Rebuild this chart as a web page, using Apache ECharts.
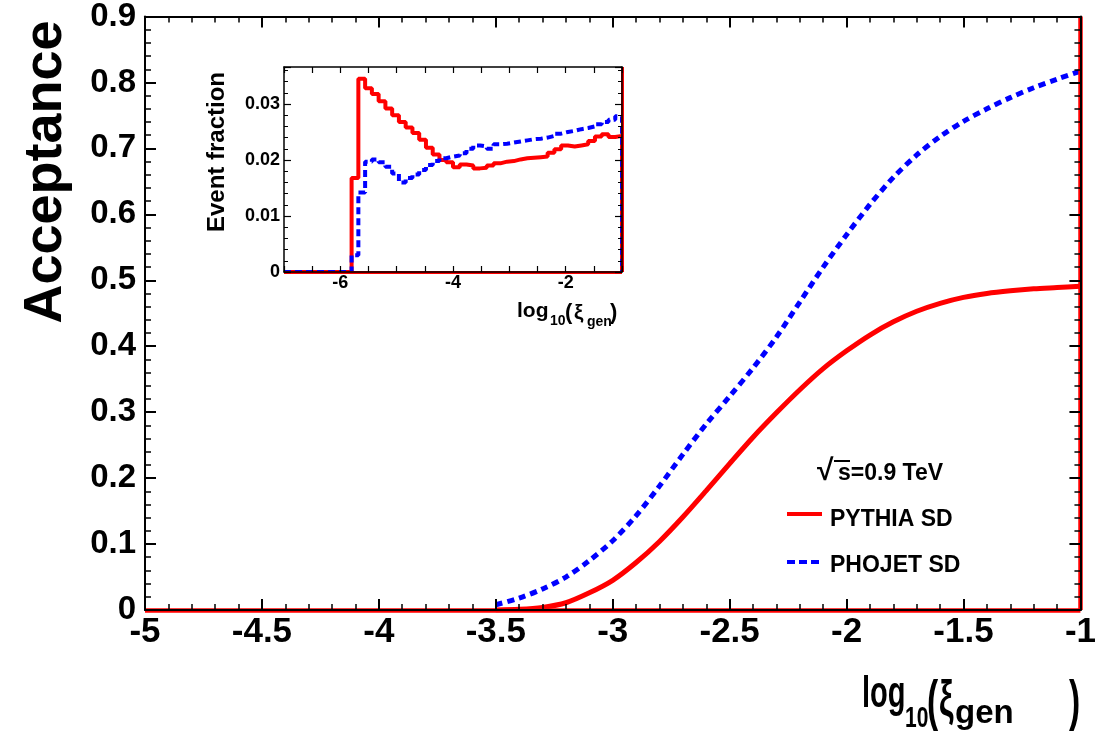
<!DOCTYPE html>
<html><head><meta charset="utf-8">
<script src="https://cdn.jsdelivr.net/npm/echarts@6/dist/echarts.min.js"></script>
<style>html,body{margin:0;padding:0;background:#fff}#c{width:1099px;height:740px}</style>
</head><body><div id="c"></div>
<script>
// ---- main plot data: acceptance vs log10(xi_gen)
const accX = [-3.5,-3.4,-3.3,-3.2,-3.1,-3.0,-2.9,-2.8,-2.7,-2.6,-2.5,-2.4,-2.3,-2.2,-2.1,-2.0,-1.9,-1.8,-1.7,-1.6,-1.5,-1.4,-1.3,-1.2,-1.1,-1.0];
const pythiaAcc = [0.000,0.001,0.004,0.011,0.026,0.045,0.072,0.104,0.141,0.181,0.222,0.262,0.299,0.334,0.366,0.393,0.417,0.437,0.453,0.465,0.474,0.480,0.484,0.487,0.489,0.491];
const phojetAcc = [0.008,0.018,0.032,0.050,0.075,0.105,0.143,0.188,0.236,0.282,0.324,0.367,0.414,0.467,0.520,0.569,0.615,0.656,0.690,0.718,0.741,0.760,0.777,0.792,0.805,0.817];

// ---- inset histogram: event fraction per bin of log10(xi_gen)
const histLow = -7, histHigh = -1, histBinWidth = 0.12;
const pythiaFrac = [0,0,0,0,0,0,0,0,0,0,
  0.0168,0.0345,0.0328,0.0318,0.0305,0.0292,0.0280,0.0268,0.0258,0.0248,
  0.0236,0.0222,0.0210,0.0200,0.0196,0.0187,0.0192,0.0190,0.0185,0.0186,
  0.0190,0.0194,0.0197,0.0198,0.0201,0.0203,0.0204,0.0205,0.0206,0.0213,
  0.0219,0.0226,0.0224,0.0226,0.0228,0.0234,0.0242,0.0246,0.0241,0.0243];
const phojetFrac = [0,0,0,0,0,0,0,0,0,0,
  0.0030,0.0142,0.0197,0.0201,0.0196,0.0188,0.0176,0.0160,0.0168,0.0174,
  0.0182,0.0191,0.0198,0.0203,0.0206,0.0208,0.0212,0.0220,0.0226,0.0224,
  0.0220,0.0228,0.0229,0.0231,0.0233,0.0235,0.0237,0.0238,0.0240,0.0243,
  0.0247,0.0250,0.0252,0.0255,0.0257,0.0260,0.0264,0.0268,0.0272,0.0278];
const insetXLabels = [-6,-4,-2];

const F = '"Liberation Sans", Arial, Helvetica, sans-serif';
const pair = (xs, ys) => xs.map((x, i) => [x, ys[i]]);
function histData(vals) {
  const d = vals.map((v, i) => [histLow + i * histBinWidth, v]);
  d.push([histHigh, vals[vals.length - 1]]);
  d.push([histHigh, 0]);
  return d;
}

function xAx(grid, min, max, interval, pos, showLabel, big) {
  return {
    gridIndex: grid, type: 'value', min, max, interval, position: pos, z: 5,
    axisLine: {show: true, onZero: false, lineStyle: {color: '#000', width: big ? 2 : 1.5}},
    axisTick: {show: true, inside: true, length: big ? 11 : 6, lineStyle: {color: '#000', width: big ? 2 : 1.2}},
    minorTick: {show: big, splitNumber: 5, length: 6, lineStyle: {color: '#000', width: 1.5}},
    splitLine: {show: false},
    axisLabel: showLabel ? (big ?
      {show: true, margin: 5, color: '#000', fontFamily: F, fontWeight: 'bold', fontSize: 35} :
      {show: true, margin: 2, color: '#000', fontFamily: F, fontWeight: 'bold', fontSize: 18, customValues: insetXLabels}) : {show: false}
  };
}
function yAx(grid, min, max, interval, pos, showLabel, big) {
  return {
    gridIndex: grid, type: 'value', min, max, interval, position: pos, z: 5,
    axisLine: {show: true, onZero: false, lineStyle: {color: '#000', width: big ? 2 : 1.5}},
    axisTick: {show: true, inside: true, length: big ? 11 : 7, lineStyle: {color: '#000', width: big ? 2 : 1.2}},
    minorTick: {show: true, splitNumber: 5, length: big ? 6 : 4, lineStyle: {color: '#000', width: big ? 1.5 : 1}},
    splitLine: {show: false},
    axisLabel: showLabel ? (big ?
      {show: true, margin: 9, color: '#000', fontFamily: F, fontWeight: 'bold', fontSize: 33} :
      {show: true, margin: 4, color: '#000', fontFamily: F, fontWeight: 'bold', fontSize: 18, showMaxLabel: false,
       formatter: v => v === 0 ? '0' : v.toFixed(2)}) : {show: false}
  };
}

const redMark = (w) => ({
  silent: true, symbol: ['none', 'none'], label: {show: false}, animation: false,
  lineStyle: {color: '#ff0000', width: w, type: 'solid'},
  data: [{yAxis: 0}, {xAxis: -1}]
});

const txt = (x, y, text, size, opts) => Object.assign({
  type: 'text', x, y, z: 10,
  style: {text, font: 'bold ' + size + 'px ' + F, fill: '#000', align: 'left', verticalAlign: 'middle', textAlign: 'left', textVerticalAlign: 'middle'}
}, opts || {});

const chart = echarts.init(document.getElementById('c'), null, {renderer: 'canvas'});
chart.setOption({
  animation: false,
  backgroundColor: '#fff',
  grid: [
    {left: 145, top: 13, width: 936, height: 597, show: false},
    {left: 284, top: 67, width: 338, height: 205, show: true, backgroundColor: '#fff', borderWidth: 0}
  ],
  xAxis: [
    xAx(0, -5, -1, 0.5, 'bottom', true, true),
    xAx(0, -5, -1, 0.5, 'top', false, true),
    xAx(1, -7, -1, 0.5, 'bottom', true, false),
    xAx(1, -7, -1, 0.5, 'top', false, false)
  ],
  yAxis: [
    yAx(0, 0, 0.9, 0.1, 'left', true, true),
    yAx(0, 0, 0.9, 0.1, 'right', false, true),
    yAx(1, 0, 0.0366, 0.01, 'left', true, false),
    yAx(1, 0, 0.0366, 0.01, 'right', false, false)
  ],
  series: [
    {type: 'line', name: 'PYTHIA SD', xAxisIndex: 0, yAxisIndex: 0, data: pair(accX, pythiaAcc), smooth: 0.3,
     showSymbol: false, lineStyle: {color: '#ff0000', width: 5}, markLine: redMark(4.5), z: 2},
    {type: 'line', name: 'PHOJET SD', xAxisIndex: 0, yAxisIndex: 0, data: pair(accX, phojetAcc), smooth: 0.3,
     showSymbol: false, lineStyle: {color: '#0000ff', width: 5, type: [7, 5]}, z: 3},
    {type: 'line', name: 'PYTHIA inset', xAxisIndex: 2, yAxisIndex: 2, data: histData(pythiaFrac), step: 'end',
     showSymbol: false, lineStyle: {color: '#ff0000', width: 4}, markLine: redMark(3), z: 2},
    {type: 'line', name: 'PHOJET inset', xAxisIndex: 2, yAxisIndex: 2, data: histData(phojetFrac), step: 'end',
     showSymbol: false, lineStyle: {color: '#0000ff', width: 4, type: [7, 4]}, z: 3}
  ],
  graphic: [
    txt(46, 172, 'Acceptance', 54, {rotation: Math.PI / 2, style: {text: 'Acceptance', font: 'bold 54px ' + F, fill: '#000', align: 'center', verticalAlign: 'middle', textAlign: 'center', textVerticalAlign: 'middle'}}),
    // main x-axis title
    txt(862, 695, 'log', 44, {scaleX: 0.66}),
    txt(905, 719, '10', 30, {scaleX: 0.7}),
    txt(927, 704, '(', 56, {scaleX: 0.6}),
    txt(939, 701, 'ξ', 50, {scaleX: 0.65}),
    txt(955, 714, 'gen', 33),
    txt(1069, 704, ')', 56, {scaleX: 0.6}),
    // inset titles
    txt(217, 152, 'Event fraction', 24, {rotation: Math.PI / 2, style: {text: 'Event fraction', font: 'bold 24px ' + F, fill: '#000', align: 'center', verticalAlign: 'middle', textAlign: 'center', textVerticalAlign: 'middle'}}),
    txt(517, 311, 'log', 21),
    txt(550, 321, '10', 14),
    txt(565, 313, '(', 22),
    txt(574, 313, 'ξ', 21),
    txt(587, 322, 'gen', 14),
    txt(610, 313, ')', 22),
    // legend
    txt(817, 472, '√', 30),
    {type: 'line', z: 10, shape: {x1: 834, y1: 461, x2: 850, y2: 461}, style: {stroke: '#000', lineWidth: 2}},
    txt(838, 474, 's=0.9 TeV', 23),
    {type: 'line', z: 10, shape: {x1: 787, y1: 514, x2: 822, y2: 514}, style: {stroke: '#ff0000', lineWidth: 4}},
    txt(830, 520, 'PYTHIA SD', 23),
    {type: 'line', z: 10, shape: {x1: 787, y1: 562, x2: 822, y2: 562}, style: {stroke: '#0000ff', lineWidth: 4, lineDash: [8, 4]}},
    txt(830, 566, 'PHOJET SD', 23)
  ]
});
</script></body></html>
